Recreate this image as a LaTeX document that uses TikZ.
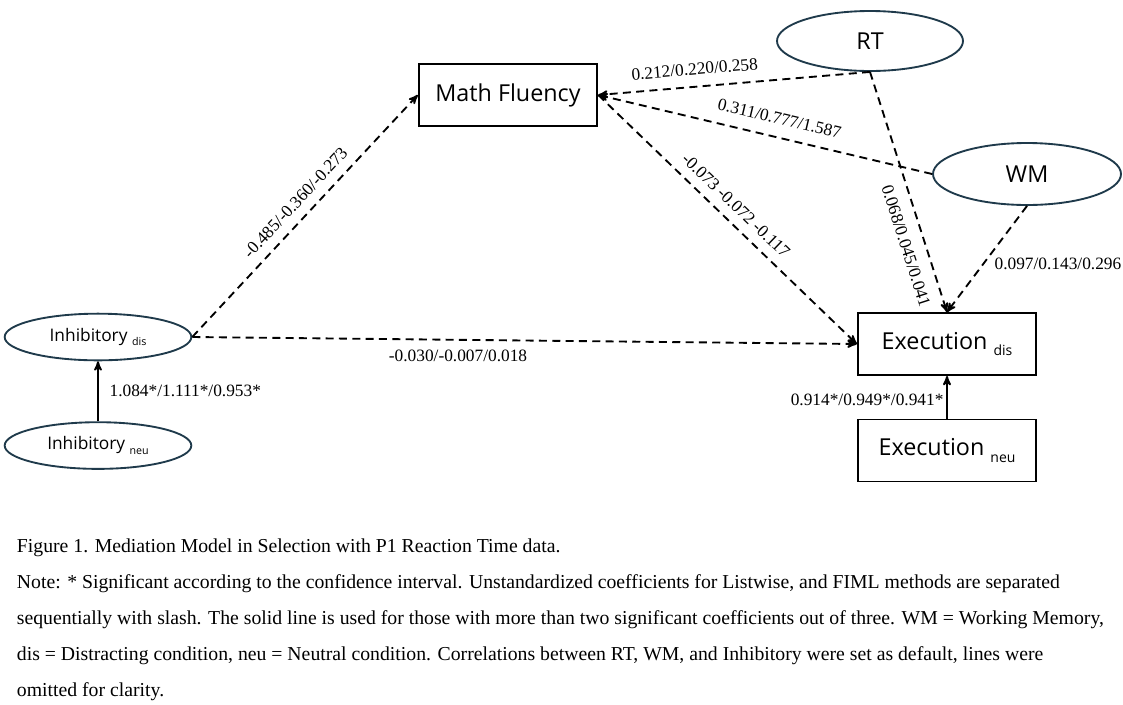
\documentclass[tikz,border=0pt]{standalone}
\usepackage{fontspec}
\setmainfont{Liberation Serif}
\newfontfamily\boxfont{Open Sans}
\usepackage{xcolor}
\definecolor{colorLatent}{HTML}{1F3A4B}
\colorlet{colorPath}{black}
\usetikzlibrary{arrows, positioning, shapes.geometric}
\newcommand{\lowsub}[2][8]{\raisebox{-0.5ex}{\fontsize{#1}{#1}\selectfont #2}}
\tikzset{
  latent/.style={ellipse, draw=colorLatent, line width=1.4pt, inner sep=0pt},
  observed/.style={rectangle, draw, line width=1.4pt, inner sep=0pt, minimum width=134pt, minimum height=46.5pt, font=\boxfont\fontsize{17.5}{17.5}\selectfont},
  coef/.style={font=\fontsize{13}{13}\selectfont, inner sep=2pt},
  dashline/.style={dash pattern=on 6pt off 4pt},
}

\begin{document}
\begin{tikzpicture}[>=stealth', line width=1.4pt, x=0.75pt, y=-0.75pt]
\useasboundingbox (0,0) rectangle (1123,704);
\node[observed] (mf) at (508,95) {Math Fluency};
\node[latent, minimum width=139.5pt, minimum height=45pt, font=\boxfont\fontsize{17.5}{17.5}\selectfont] (rt) at (870,41) {RT};
\node[latent, minimum width=141pt, minimum height=46.5pt, font=\boxfont\fontsize{17.5}{17.5}\selectfont] (wm) at (1027,174) {WM};
\node[latent, minimum width=140pt, minimum height=35pt, font=\boxfont\fontsize{13}{13}\selectfont] (idis) at (98,337) {Inhibitory \lowsub{dis}};
\node[latent, minimum width=140pt, minimum height=35pt, font=\boxfont\fontsize{13}{13}\selectfont, below=45pt of idis] (ineu) {Inhibitory \lowsub{neu}};
\node[observed] (edis) at (947,344) {Execution \lowsub[10.5]{dis}};
\node[observed, below=32pt of edis] (eneu) {Execution \lowsub[10.5]{neu}};
% paths, dashed = not significant
\draw [->, dashline, colorPath] (idis.east) -- node [coef, sloped, above=5pt, pos=0.51]{-0.485/-0.360/-0.273} (mf.west);
\draw [->, dashline, colorPath] (idis.east) -- node [coef, below=5pt, pos=0.40]{-0.030/-0.007/0.018} (edis.west);
\draw [->, dashline, colorPath] (rt.south) -- node [coef, sloped, above=6pt, pos=0.64]{0.212/0.220/0.258} (mf.east);
\draw [->, dashline, colorPath] (wm.west) -- node [coef, sloped, above=7pt, pos=0.47]{0.311/0.777/1.587} (mf.east);
\draw [->, dashline, colorPath] (mf.east) -- node [coef, sloped, above=5pt, pos=0.49]{-0.073 -0.072 -0.117} (edis.west);
\draw [->, dashline, colorPath] (rt.south) -- node [coef, sloped, below=7pt, pos=0.70]{0.068/0.045/0.041} (edis.north);
\draw [->, dashline, colorPath] (wm.south) -- node [coef, right=6pt, pos=0.55]{0.097/0.143/0.296} (edis.north);
% paths, solid = significant
\draw [->, colorPath] (ineu) -- node [coef, right=6pt, pos=0.5]{1.084*/1.111*/0.953*} (idis);
\draw [->, colorPath] (eneu) -- node [coef, left, pos=0.44]{0.914*/0.949*/0.941*} (edis);
\node[anchor=north west, align=left, inner sep=0pt, font=\fontsize{14.8}{27}\selectfont] (caption) at (16,538) {Figure 1. Mediation Model in Selection with P1 Reaction Time data.\\
Note: * Significant according to the confidence interval. Unstandardized coefficients for Listwise, and FIML methods are separated\\
sequentially with slash. The solid line is used for those with more than two significant coefficients out of three. WM = Working Memory,\\
dis = Distracting condition, neu = Neutral condition. Correlations between RT, WM, and Inhibitory were set as default, lines were\\
omitted for clarity.};
\end{tikzpicture}
\end{document}
